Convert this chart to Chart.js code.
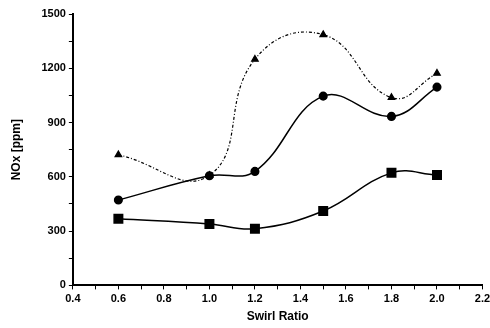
<!DOCTYPE html>
<html>
<head>
<meta charset="utf-8">
<script src="https://cdn.jsdelivr.net/npm/chart.js@4"></script>
<style>
  html, body { margin: 0; padding: 0; background: #fff; }
  #wrap { width: 490px; height: 328px; }
</style>
</head>
<body>
<div id="wrap"><canvas id="noxChart"></canvas></div>
<script>
// swirl ratio and NOx readings (ppm)
var swirl = [0.6, 1.0, 1.2, 1.5, 1.8, 2.0];
var noxSquare = [368, 340, 313, 411, 622, 610];
var noxCircle = [472, 606, 630, 1046, 934, 1096];
var noxTriangle = [722, 608, 1250, 1386, 1038, 1172];

function pts(ys) {
	return swirl.map(function (x, i) { return { x: x, y: ys[i] }; });
}

var ctx = document.getElementById("noxChart");
var chart = new Chart(ctx, {
	type: "line",
	data: {
		datasets: [
			{
				data: pts(noxSquare),
				borderColor: "#000",
				backgroundColor: "#000",
				borderWidth: 1.5,
				pointStyle: "rect",
				pointRadius: 6,
				tension: 0.4,
			},
			{
				data: pts(noxCircle),
				borderColor: "#000",
				backgroundColor: "#000",
				borderWidth: 1.5,
				pointStyle: "circle",
				pointRadius: 3.8,
				tension: 0.4,
			},
			{
				data: pts(noxTriangle),
				borderColor: "#000",
				backgroundColor: "#000",
				borderWidth: 1.2,
				borderDash: [3, 2, 1, 2],
				pointStyle: "triangle",
				pointRadius: 3.8,
				tension: 0.45,
			},
		],
	},
	options: {
		responsive: true,
		maintainAspectRatio: false,
		animation: false,
		layout: { padding: { top: 14, right: 0, left: 5, bottom: 2 } },
		plugins: { legend: { display: false }, tooltip: { enabled: false } },
		scales: {
			x: {
				type: "linear",
				min: 0.4,
				max: 2.2,
				border: { color: "#000", width: 2 },
				grid: { drawOnChartArea: false, color: "#000", tickLength: 4 },
				afterFit: function (s) { s.paddingRight = 5; },
				ticks: {
					stepSize: 0.1,
					color: "#000",
					font: { family: "Liberation Sans", size: 11, weight: "bold" },
					maxRotation: 0,
					autoSkip: false,
					callback: function (v) {
						return Math.round(v * 10) % 2 === 0 ? v.toFixed(1) : "";
					},
				},
				title: {
					display: true,
					text: "Swirl Ratio",
					color: "#000",
					font: { family: "Liberation Sans", size: 12, weight: "bold" },
					padding: { top: 1, bottom: 2 },
				},
			},
			y: {
				min: 0,
				max: 1500,
				border: { color: "#000", width: 2 },
				grid: { drawOnChartArea: false, color: "#000", tickLength: 4 },
				ticks: {
					stepSize: 150,
					color: "#000",
					autoSkip: false,
					font: { family: "Liberation Sans", size: 11, weight: "bold" },
					callback: function (v) {
						return v % 300 === 0 ? v : "";
					},
				},
				title: {
					display: true,
					text: "NOx [ppm]",
					color: "#000",
					font: { family: "Liberation Sans", size: 12, weight: "bold" },
					padding: { bottom: 15 },
				},
			},
		},
	},
});
</script>
</body>
</html>
